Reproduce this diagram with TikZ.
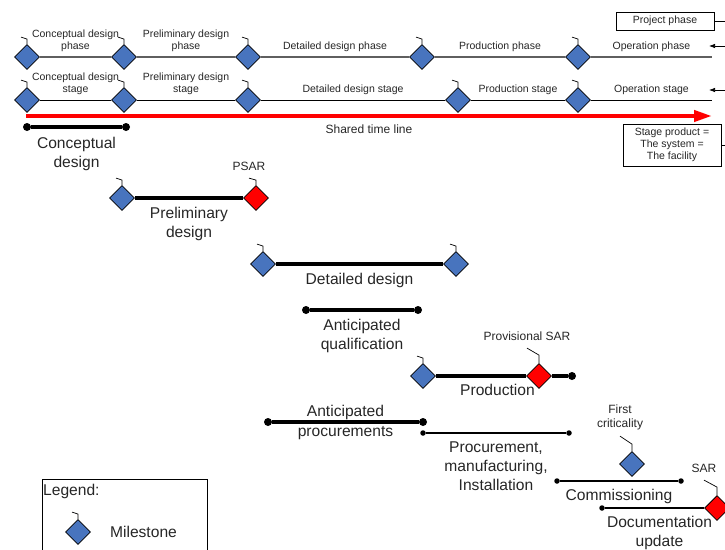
\documentclass[tikz,border=0pt]{standalone}
\usepackage{fontspec}
\setmainfont{Liberation Sans}
\usetikzlibrary{shapes.geometric,arrows.meta,positioning}
\definecolor{msblue}{RGB}{72,116,190}
\definecolor{linegray}{RGB}{95,95,95}
\newcommand{\rowfont}{\fontsize{10.5}{12}\selectfont}
\newcommand{\midfont}{\fontsize{12}{14}\selectfont}
\newcommand{\bigfont}{\fontsize{15.6}{19}\selectfont}
\tikzset{
    milestone/.style={diamond, draw=black, line width=0.8pt, fill=msblue, minimum size=25pt, inner sep=0pt},
    keystone/.style={milestone, fill=red},
    dotend/.style={circle, fill=black, inner sep=0pt, minimum size=8pt},
    smalldot/.style={circle, fill=black, inner sep=0pt, minimum size=5.5pt},
    phaseline/.style={draw=linegray, line width=1.5pt},
    stageline/.style={draw=black, line width=1pt},
    bar/.style={line width=4pt},
    thinbar/.style={line width=2pt},
    flag/.style={line width=0.7pt},
    pointer/.style={line width=0.7pt, -{Latex[length=6pt,width=4.5pt]}},
    timeline/.style={draw=red, line width=4pt, -{Triangle[length=18pt,width=11pt]}},
    rowlbl/.style={font=\rowfont, align=center, text=black!85, inner sep=2pt},
    keylbl/.style={font=\midfont, align=center, text=black!85, inner sep=3pt},
    biglbl/.style={font=\bigfont, align=center, text=black!85, inner sep=3pt},
    infobox/.style={draw, line width=0.8pt, font=\rowfont, align=center, text=black!85, minimum width=98pt, inner sep=2pt}
}
\begin{document}
\begin{tikzpicture}[x=1pt, y=-1pt]
    \useasboundingbox (0,0) rectangle (725,549);
    \clip (0,0) rectangle (725,549);

    % phases
    \node[milestone] (p1) at (27,57) {};
    \node[milestone] (p2) at (124,57) {};
    \node[milestone] (p3) at (248,57) {};
    \node[milestone] (p4) at (422,57) {};
    \node[milestone] (p5) at (578,57) {};
    \coordinate (pend) at (712,57);
    \draw[phaseline] (p1) -- node[rowlbl, above=3pt] (pl1) {Conceptual design\\phase} (p2);
    \draw[phaseline] (p2) -- node[rowlbl, above=3pt] (pl2) {Preliminary design\\phase} (p3);
    \draw[phaseline] (p3) -- node[rowlbl, above=3pt] (pl3) {Detailed design phase} (p4);
    \draw[phaseline] (p4) -- node[rowlbl, above=3pt] (pl4) {Production phase} (p5);
    \draw[phaseline] (p5) -- node[rowlbl, above=3pt] (pl5) {Operation phase} (pend);

    % stages
    \node[milestone] (s1) at (27,100) {};
    \node[milestone] (s2) at (124,100) {};
    \node[milestone] (s3) at (248,100) {};
    \node[milestone] (s4) at (458,100) {};
    \node[milestone] (s5) at (578,100) {};
    \coordinate (send) at (712,100);
    \draw[stageline] (s1) -- node[rowlbl, above=3pt] (sl1) {Conceptual design\\stage} (s2);
    \draw[stageline] (s2) -- node[rowlbl, above=3pt] (sl2) {Preliminary design\\stage} (s3);
    \draw[stageline] (s3) -- node[rowlbl, above=3pt] (sl3) {Detailed design stage} (s4);
    \draw[stageline] (s4) -- node[rowlbl, above=3pt] (sl4) {Production stage} (s5);
    \draw[stageline] (s5) -- node[rowlbl, above=3pt] (sl5) {Operation stage} (send);

    \coordinate (tl0) at (26,116);
    \coordinate (tl1) at (712,116);
    \draw[timeline] (tl0) -- node[keylbl, below=3.5pt] (tllbl) {Shared time line} (tl1);

    \node[infobox, minimum height=18pt] (proj) at (665,21) {Project phase};
    \coordinate (projR) at (725,21);
    \coordinate (phR) at (725,46);
    \coordinate (phT) at (709,46);
    \coordinate (stR) at (725,90);
    \coordinate (stT) at (709,90);
    \draw[flag] (proj) -- (projR);
    \draw[pointer] (phR) -- (phT);
    \draw[pointer] (stR) -- (stT);

    \node[infobox, minimum height=42pt] (prod) at (672,145) {Stage product =\\The system =\\The facility};
    \coordinate (prodR) at (725,145);
    \draw[flag] (prod) -- (prodR);

    % activities
    \node[dotend] (cdA) at (27,127) {};
    \node[dotend] (cdB) at (126,127) {};
    \draw[bar] (cdA) -- node[biglbl, below=5pt] (cdlbl) {Conceptual\\design} (cdB);

    \node[milestone] (pdA) at (122,198) {};
    \node[keystone] (pdB) at (256,198) {};
    \draw[bar] (pdA) -- node[biglbl, below=4.5pt] (pdlbl) {Preliminary\\design} (pdB);
    \draw[flag] (pdB.north) -- ++(0,-5) -- ++(-7,-2) coordinate (pdF);
    \node[keylbl, above=4pt] (psar) at (pdF) {PSAR};

    \node[milestone] (ddA) at (263,264) {};
    \node[milestone] (ddB) at (456,264) {};
    \draw[bar] (ddA) -- node[biglbl, below=4.5pt] (ddlbl) {Detailed design} (ddB);

    \node[dotend] (aqA) at (306,310) {};
    \node[dotend] (aqB) at (418,310) {};
    \draw[bar] (aqA) -- node[biglbl, below=4.5pt] (aqlbl) {Anticipated\\qualification} (aqB);

    \node[milestone] (prA) at (423,376) {};
    \node[keystone] (prB) at (539,376) {};
    \node[dotend] (prC) at (572,376) {};
    \draw[bar] (prA) -- (prB);
    \draw[bar] (prB) -- (prC);
    \path (prA.center) -- node[biglbl, below=4.5pt] (prlbl) {Production} (prC.center);
    \draw[flag] (prB.north) -- ++(0,-8) -- ++(-12,-7) coordinate (prF);
    \node[keylbl, above=4pt] (psarp) at (prF) {Provisional SAR};

    \node[dotend] (apA) at (268,422) {};
    \node[dotend] (apB) at (423,422) {};
    \draw[bar] (apA) -- (apB);
    \path (apA) -- node[biglbl, font=\fontsize{15.6}{20}\selectfont] (aplbl) {Anticipated\\procurements} (apB);

    \node[smalldot] (pmA) at (423,433) {};
    \node[smalldot] (pmB) at (569,433) {};
    \draw[thinbar] (pmA) -- node[biglbl, below=4.5pt] (pmlbl) {Procurement,\\manufacturing,\\Installation} (pmB);

    \node[milestone] (fc) at (632,464) {};
    \draw[flag] (fc.north) -- ++(0,-7) -- ++(-12,-8) coordinate (fcF);
    \node[keylbl, above=2.5pt] (fclbl) at (fcF) {First\\criticality};

    \node[smalldot] (cmA) at (557,481) {};
    \node[smalldot] (cmB) at (681,481) {};
    \draw[thinbar] (cmA) -- node[biglbl, below=4.5pt] (cmlbl) {Commissioning} (cmB);

    \node[smalldot] (doA) at (602,508) {};
    \node[keystone] (doB) at (717,508) {};
    \draw[thinbar] (doA) -- (doB);
    \path (doA.center) -- node[biglbl, below=4.5pt] (dolbl) {Documentation\\update} (doB.center);
    \draw[flag] (doB.north) -- ++(0,-8) -- ++(-13,-7) coordinate (doF);
    \node[keylbl, above=4pt] (sar) at (doF) {SAR};

    % legend
    \node[draw, line width=0.8pt, minimum width=165pt, minimum height=90pt, anchor=north west] (legend) at (42,479) {};
    \node[biglbl, anchor=north west, inner xsep=1pt, inner ysep=5pt] (legtitle) at (legend.north west) {Legend:};
    \node[milestone] (lgm) at (78,532) {};
    \node[biglbl, right=16pt of lgm] (lgmlbl) {Milestone};

    \foreach \m in {p1,p2,p3,p4,p5,s1,s2,s3,s4,s5,pdA,ddA,ddB,prA,lgm}
        \draw[flag] (\m.north) -- ++(0,-5) -- ++(-6,-2);
\end{tikzpicture}
\end{document}
